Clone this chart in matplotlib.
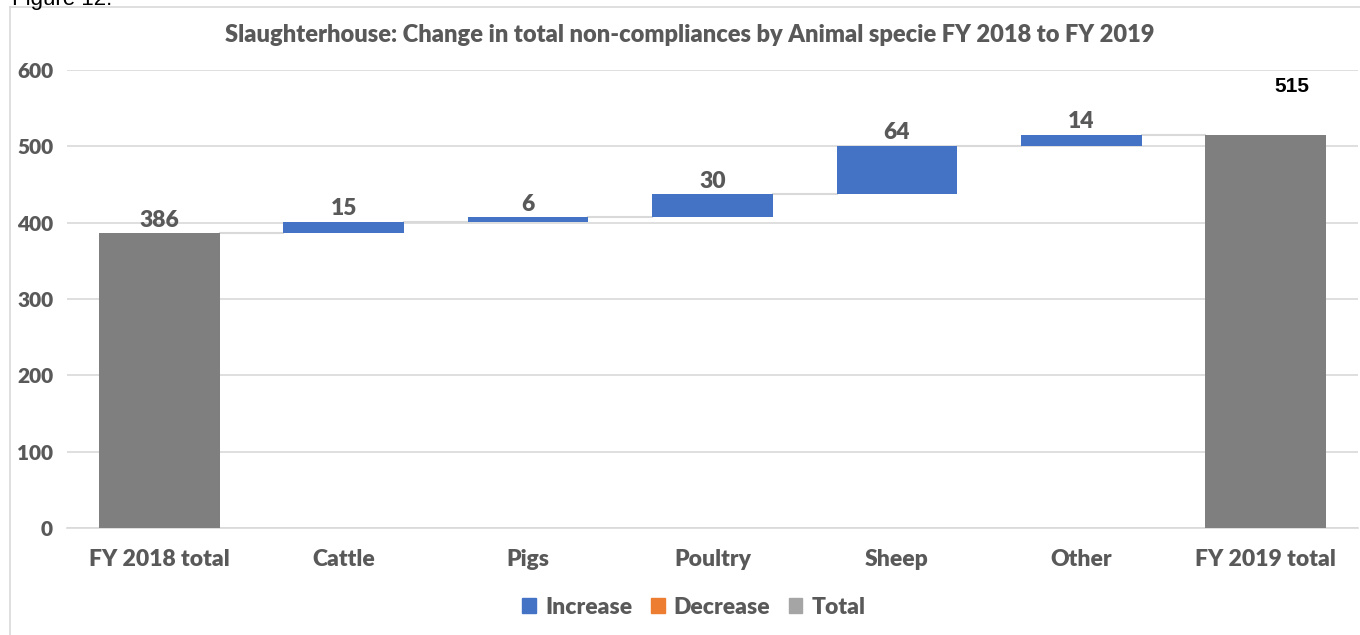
import matplotlib
matplotlib.use("Agg")
import matplotlib.pyplot as plt
from matplotlib.patches import Patch
from matplotlib.lines import Line2D
import numpy as np

categories = ["FY 2018 total", "Cattle", "Pigs", "Poultry", "Sheep", "Other", "FY 2019 total"]
start_total = 386
changes = [15, 6, 30, 64, 14]
end_total = 515
yticks = [0, 100, 200, 300, 400, 500, 600]
title = "Slaughterhouse: Change in total non-compliances by Animal specie FY 2018 to FY 2019"

C_INC = "#4472C4"
C_DEC = "#ED7D31"
C_TOT = "#7F7F7F"
C_TOT_LEG = "#A5A5A5"
C_TXT = "#595959"
C_GRID = "#D9D9D9"
FONT = "Lato"
WT = 800

fig = plt.figure(figsize=(13.6, 6.35), dpi=100)
ax = fig.add_axes([67/1360, (635-528)/635, (1358-67)/1360, (528-70)/635])

x = np.arange(len(categories))
w = 0.655
bottoms = [0]
heights = [start_total]
cum = start_total
for c in changes:
    bottoms.append(cum)
    heights.append(c)
    cum += c
bottoms.append(0)
heights.append(end_total)
colors = [C_TOT] + [C_INC if c >= 0 else C_DEC for c in changes] + [C_TOT]

ax.bar(x, heights, bottom=bottoms, width=w, color=colors, zorder=3)

# connectors
tops = [b + h for b, h in zip(bottoms, heights)]
for i in range(len(x) - 1):
    ax.plot([x[i] + w/2, x[i+1] - w/2], [tops[i], tops[i]], color=C_GRID, lw=1.5, zorder=2)

# labels
vals = [start_total] + changes
for i, v in enumerate(vals):
    ax.annotate(str(v), (x[i], tops[i]), xytext=(0, 2), textcoords="offset points",
                ha="center", va="bottom", fontsize=16.5, fontweight=WT, color=C_TXT,
                family=FONT, zorder=4)
ax.annotate(str(end_total), (x[-1] + 0.14, tops[-1]), xytext=(0, 28), textcoords="offset points",
            ha="center", va="bottom", fontsize=15, fontweight="bold", color="black",
            family="Liberation Sans", zorder=4)

ax.set_xlim(-0.5, len(x) - 0.5)
ax.set_ylim(0, 600)
ax.set_yticks(yticks)
ax.set_xticks(x)
ax.set_xticklabels(categories, fontsize=16.5, fontweight=WT, color=C_TXT, family=FONT)
for lab in ax.get_yticklabels():
    lab.set_fontsize(15)
    lab.set_fontweight(WT)
    lab.set_color(C_TXT)
    lab.set_family(FONT)
ax.tick_params(axis="both", length=0)
ax.tick_params(axis="x", pad=15)
ax.tick_params(axis="y", pad=10)
ax.grid(axis="y", color=C_GRID, lw=1.2, zorder=0)
for s in ["top", "right", "left"]:
    ax.spines[s].set_visible(False)
ax.spines["bottom"].set_color(C_GRID)
ax.spines["bottom"].set_linewidth(1.2)

fig.text(690/1360, 1 - 35/635, title, ha="center", va="center", fontsize=17,
         fontweight=WT, color=C_TXT, family=FONT)

handles = [Patch(color=C_INC, label="Increase"), Patch(color=C_DEC, label="Decrease"),
           Patch(color=C_TOT_LEG, label="Total")]
fig.legend(handles=handles, loc="center", bbox_to_anchor=(694/1360, 1 - 607/635), ncol=3,
           frameon=False, prop={"family": FONT, "size": 16.5, "weight": WT},
           labelcolor=C_TXT, handlelength=0.6, handleheight=0.6, handletextpad=0.4,
           columnspacing=0.8)

# frame border (left and top) and cut-off caption
fig.add_artist(Line2D([10/1360, 10/1360], [0, 1 - 7/635], color=C_GRID, lw=1.2,
                      transform=fig.transFigure))
fig.add_artist(Line2D([10/1360, 1], [1 - 7/635, 1 - 7/635], color=C_GRID, lw=1.2,
                      transform=fig.transFigure))
fig.text(12/1360, 1 - 5/635, "Figure 12.", ha="left", va="baseline", fontsize=16,
         color="black", family="Liberation Sans")

fig.savefig("out.png", dpi=100, facecolor="white")
